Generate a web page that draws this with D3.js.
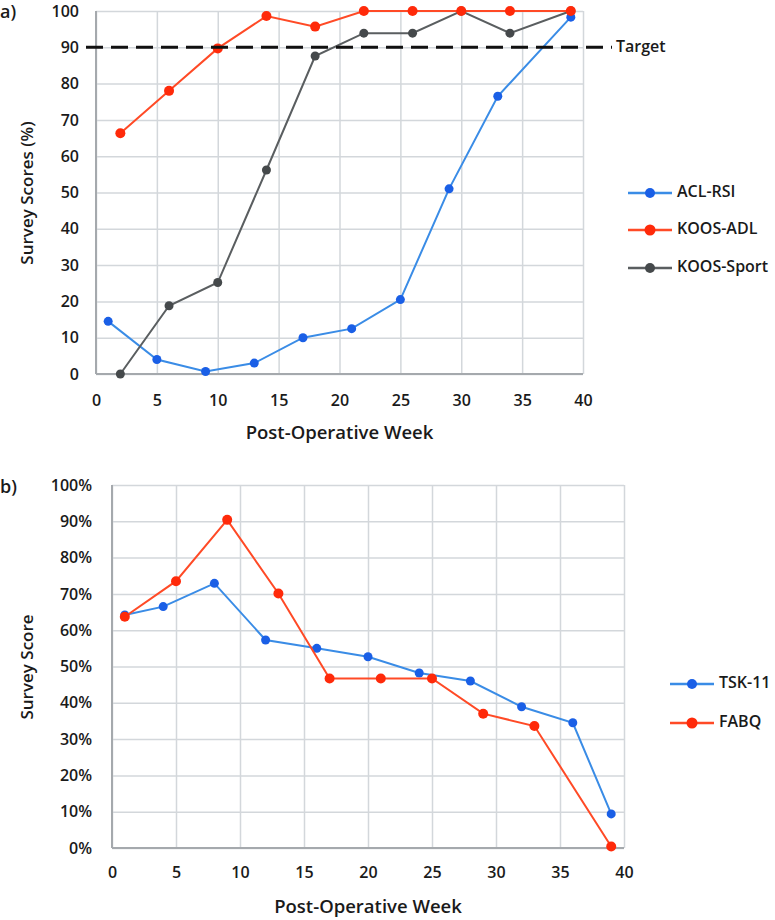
<!DOCTYPE html>
<html><head><meta charset="utf-8">
<script src="https://cdn.jsdelivr.net/npm/d3@7"></script>
<style>
body{margin:0;background:#fff;}
svg text{font-family:"Open Sans",Lato,sans-serif;fill:#1a1a1a;font-weight:600;}
</style></head>
<body><svg id="c" width="775" height="920"></svg>
<script>
// ---- Panel a data ----
const weeksACL = [1,5,9,13,17,21,25,29,33,39];
const aclRSI   = [14.5,4,0.7,3,10,12.5,20.5,51,76.5,98.3];
const weeksKOOS = [2,6,10,14,18,22,26,30,34,39];
const koosADL   = [66.3,78,89.7,98.6,95.7,100,100,100,100,100];
const koosSport = [0,18.8,25.2,56.2,87.6,93.9,93.9,100,93.9,100];
const targetValue = 90;
const aTicksX = [0,5,10,15,20,25,30,35,40];
const aTicksY = [0,10,20,30,40,50,60,70,80,90,100];

// ---- Panel b data ----
const weeksTSK = [1,4,8,12,16,20,24,28,32,36,39];
const tsk11    = [64.2,66.5,72.9,57.3,55,52.7,48.2,46,38.9,34.5,9.4];
const weeksFABQ = [1,5,9,13,17,21,25,29,33,39];
const fabq      = [63.7,73.5,90.4,70.1,46.7,46.7,46.7,37,33.6,0.4];
const bTicksX = [0,5,10,15,20,25,30,35,40];
const bTicksY = [0,10,20,30,40,50,60,70,80,90,100];

const BLUE_L="#3a8ce6", BLUE_M="#1a5fe6", RED_L="#ff4a26", RED_M="#ff2a0a", GRAY_L="#5a5e60", GRAY_M="#45494b";
const GRID="#d3d7db", AXIS="#a5a9ad";

const svg = d3.select("#c");

function panel(cfg){
  const g = svg.append("g");
  const x = d3.scaleLinear().domain([0,40]).range([cfg.x0,cfg.x1]);
  const y = d3.scaleLinear().domain([0,100]).range([cfg.y0,cfg.y1]);
  // grid
  g.append("g").attr("transform",`translate(0,${cfg.y0})`)
    .call(d3.axisBottom(x).tickValues(cfg.tx).tickSize(-(cfg.y0-cfg.y1)).tickFormat(""))
    .call(s=>{s.select(".domain").remove();s.selectAll("line").attr("stroke",GRID).attr("stroke-width",1.5);});
  g.append("g").attr("transform",`translate(${cfg.x0},0)`)
    .call(d3.axisLeft(y).tickValues(cfg.ty).tickSize(-(cfg.x1-cfg.x0)).tickFormat(""))
    .call(s=>{s.select(".domain").remove();s.selectAll("line").attr("stroke",GRID).attr("stroke-width",1.5);});
  // axis lines
  g.append("line").attr("x1",cfg.x0).attr("x2",cfg.x1).attr("y1",cfg.y0).attr("y2",cfg.y0).attr("stroke",AXIS).attr("stroke-width",2);
  g.append("line").attr("x1",cfg.x0).attr("x2",cfg.x0).attr("y1",cfg.y0).attr("y2",cfg.y1).attr("stroke",AXIS).attr("stroke-width",2);
  // tick labels
  g.append("g").attr("transform",`translate(0,${cfg.y0})`)
    .call(d3.axisBottom(x).tickValues(cfg.tx).tickSize(0).tickPadding(cfg.xpad))
    .call(s=>{s.select(".domain").remove();s.selectAll("text").attr("font-size",16).attr("fill","#1a1a1a").attr("font-family","'Open Sans',sans-serif");});
  g.append("g").attr("transform",`translate(${cfg.x0},0)`)
    .call(d3.axisLeft(y).tickValues(cfg.ty).tickSize(0).tickPadding(cfg.ypad).tickFormat(cfg.yfmt))
    .call(s=>{s.select(".domain").remove();s.selectAll("text").attr("font-size",16).attr("fill","#1a1a1a").attr("font-family","'Open Sans',sans-serif");});
  // titles
  g.append("text").attr("x",(cfg.x0+cfg.x1)/2).attr("y",cfg.xtitleY).attr("text-anchor","middle").attr("font-size",18.5).text("Post-Operative Week");
  g.append("text").attr("transform",`translate(${cfg.ytitleX},${cfg.ytitleC}) rotate(-90)`).attr("text-anchor","middle").attr("dominant-baseline","middle").attr("font-size",17).text(cfg.ytitle);
  g.append("text").attr("x",0).attr("y",cfg.labelY).attr("font-size",18).attr("font-weight","bold").text(cfg.label);
  return {g,x,y};
}

function series(p, xs, ys, lc, mc, r){
  const pts = xs.map((d,i)=>[d,ys[i]]);
  p.g.append("path").datum(pts).attr("fill","none").attr("stroke",lc).attr("stroke-width",2)
    .attr("d",d3.line().x(d=>p.x(d[0])).y(d=>p.y(d[1])));
  p.g.selectAll(null).data(pts).enter().append("circle")
    .attr("cx",d=>p.x(d[0])).attr("cy",d=>p.y(d[1])).attr("r",r).attr("fill",mc);
}

function legend(p, items, lx, ys){
  items.forEach((it,i)=>{
    const gy = ys[i];
    p.g.append("line").attr("x1",lx).attr("x2",lx+44).attr("y1",gy).attr("y2",gy).attr("stroke",it.lc).attr("stroke-width",2.5);
    p.g.append("circle").attr("cx",lx+22).attr("cy",gy).attr("r",it.r+0.5).attr("fill",it.mc);
    p.g.append("text").attr("x",lx+49).attr("y",gy).attr("dominant-baseline","middle").attr("font-size",16).text(it.name);
  });
}

// Panel a
const pa = panel({x0:96,x1:583,y0:374,y1:11,tx:aTicksX,ty:aTicksY,xpad:21,ypad:17,yfmt:d=>d,
  xtitleY:439,ytitleX:28,ytitleC:193,ytitle:"Survey Scores (%)",label:"a)",labelY:18});
series(pa, weeksACL, aclRSI, BLUE_L, BLUE_M, 4.5);
series(pa, weeksKOOS, koosSport, GRAY_L, GRAY_M, 4.5);
series(pa, weeksKOOS, koosADL, RED_L, RED_M, 5);
// target line
pa.g.append("line").attr("x1",86).attr("x2",612).attr("y1",pa.y(targetValue)).attr("y2",pa.y(targetValue))
  .attr("stroke","#111").attr("stroke-width",3).attr("stroke-dasharray","17,8");
pa.g.append("text").attr("x",616).attr("y",pa.y(targetValue)).attr("dominant-baseline","middle").attr("font-size",16).attr("font-weight","600").text("Target");
legend(pa,[{name:"ACL-RSI",lc:BLUE_L,mc:BLUE_M,r:4.5},{name:"KOOS-ADL",lc:RED_L,mc:RED_M,r:5},{name:"KOOS-Sport",lc:GRAY_L,mc:GRAY_M,r:4.5}],628,[193,230,268]);

// Panel b
const pb = panel({x0:112,x1:624,y0:848,y1:485,tx:bTicksX,ty:bTicksY,xpad:19,ypad:20,yfmt:d=>d+"%",
  xtitleY:913,ytitleX:28,ytitleC:667,ytitle:"Survey Score",label:"b)",labelY:493});
series(pb, weeksTSK, tsk11, BLUE_L, BLUE_M, 4.5);
series(pb, weeksFABQ, fabq, RED_L, RED_M, 5);
legend(pb,[{name:"TSK-11",lc:BLUE_L,mc:BLUE_M,r:4.5},{name:"FABQ",lc:RED_L,mc:RED_M,r:5}],670,[684,723]);
</script></body></html>
